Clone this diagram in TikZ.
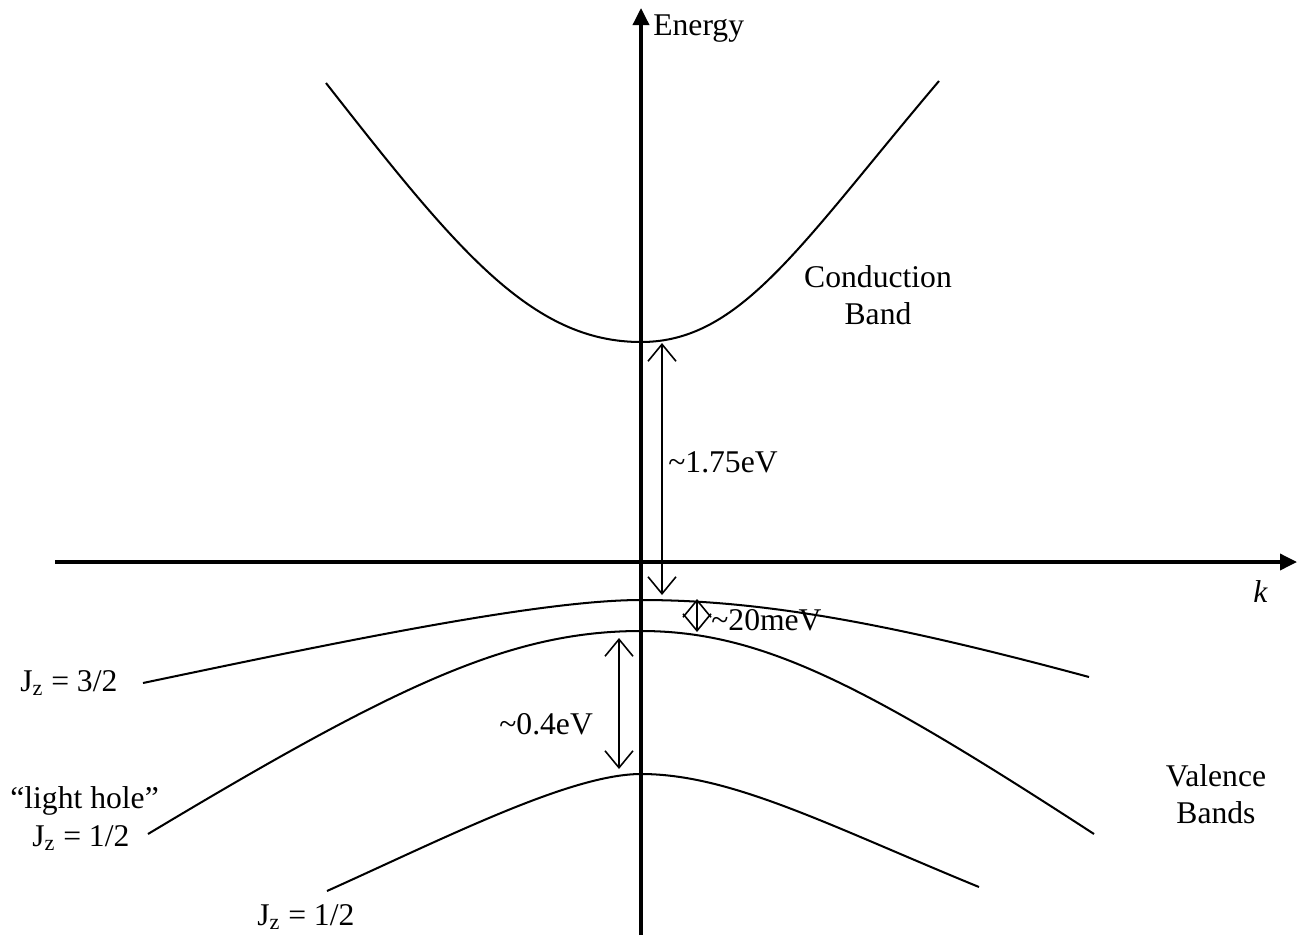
\documentclass[tikz,border=0pt]{standalone}
\usepackage{fontspec}
\setmainfont{Liberation Serif}
\usetikzlibrary{arrows.meta}
\begin{document}
\begin{tikzpicture}[x=0.02cm,y=-0.02cm,
  axis/.style={line width=2pt,-{Triangle[length=0.34cm,width=0.32cm]}},
  band/.style={line width=1.15pt},
  gap/.style={line width=0.9pt,{Straight Barb[length=0.34cm,width=0.56cm]}-{Straight Barb[length=0.34cm,width=0.56cm]}},
  lbl/.style={inner sep=0,anchor=base west,font=\fontsize{18}{22}\selectfont},
  lblc/.style={inner sep=0,anchor=base,font=\fontsize{18}{22}\selectfont}]
\useasboundingbox (0,0) rectangle (1302,937);
% axes
\coordinate (xl) at (55,562);
\coordinate (xr) at (1297,562);
\coordinate (yb) at (641,935);
\coordinate (yt) at (641,8);
\draw[axis] (xl) -- (xr);
\draw[axis] (yb) -- (yt);
% band extrema and ends
\coordinate (cbL) at (326,83);  \coordinate (cb0) at (641,342); \coordinate (cbR) at (939,81);
\coordinate (hhL) at (143,683); \coordinate (hh0) at (641,600); \coordinate (hhR) at (1089,677);
\coordinate (lhL) at (148,834); \coordinate (lh0) at (641,631); \coordinate (lhR) at (1094,834);
\coordinate (soL) at (327,891); \coordinate (so0) at (641,774); \coordinate (soR) at (979,887);
% bands
\draw[band] (cbL) .. controls (456,249) and (531,342) .. (cb0)
                  .. controls (741,342) and (800,245) .. (cbR);
\draw[band] (hhL) .. controls (343,641) and (541,600) .. (hh0)
                  .. controls (761,600) and (889,623) .. (hhR);
\draw[band] (lhL) .. controls (398,684) and (511,631) .. (lh0)
                  .. controls (761,631) and (864,684.5) .. (lhR);
\draw[band] (soL) .. controls (447,837) and (571,774) .. (so0)
                  .. controls (731,774) and (829,825.5) .. (soR);
% gap arrows
\coordinate (g1t) at (662,343);
\coordinate (g1b) at (662,595);
\coordinate (g2t) at (697,599);
\coordinate (g2b) at (697,632);
\coordinate (g3t) at (619,638);
\coordinate (g3b) at (619,769);
\draw[gap] (g1t) -- (g1b);
\draw[gap] (g2t) -- (g2b);
\draw[gap] (g3t) -- (g3b);
% labels
\node[lbl] (energy) at (653,35) {Energy};
\node[lbl] (k) at (1253,602) {\textit{k}};
\node[lblc] (cb1) at (878,287) {Conduction};
\node[lblc] (cb2) at (878,324) {Band};
\node[lblc] (vb1) at (1216,786) {Valence};
\node[lblc] (vb2) at (1216,823) {Bands};
\node[lbl] (e175) at (668,472) {\textasciitilde1.75eV};
\node[lbl] (e20) at (711,630) {\textasciitilde20meV};
\node[lbl] (e04) at (499,734) {\textasciitilde0.4eV};
\node[lbl] (hh) at (20,691) {J\textsubscript{z} = 3/2};
\node[lbl] (lh1) at (10,808) {“light hole”};
\node[lbl] (lh2) at (32,846) {J\textsubscript{z} = 1/2};
\node[lbl] (so) at (257,925) {J\textsubscript{z} = 1/2};
\end{tikzpicture}
\end{document}
